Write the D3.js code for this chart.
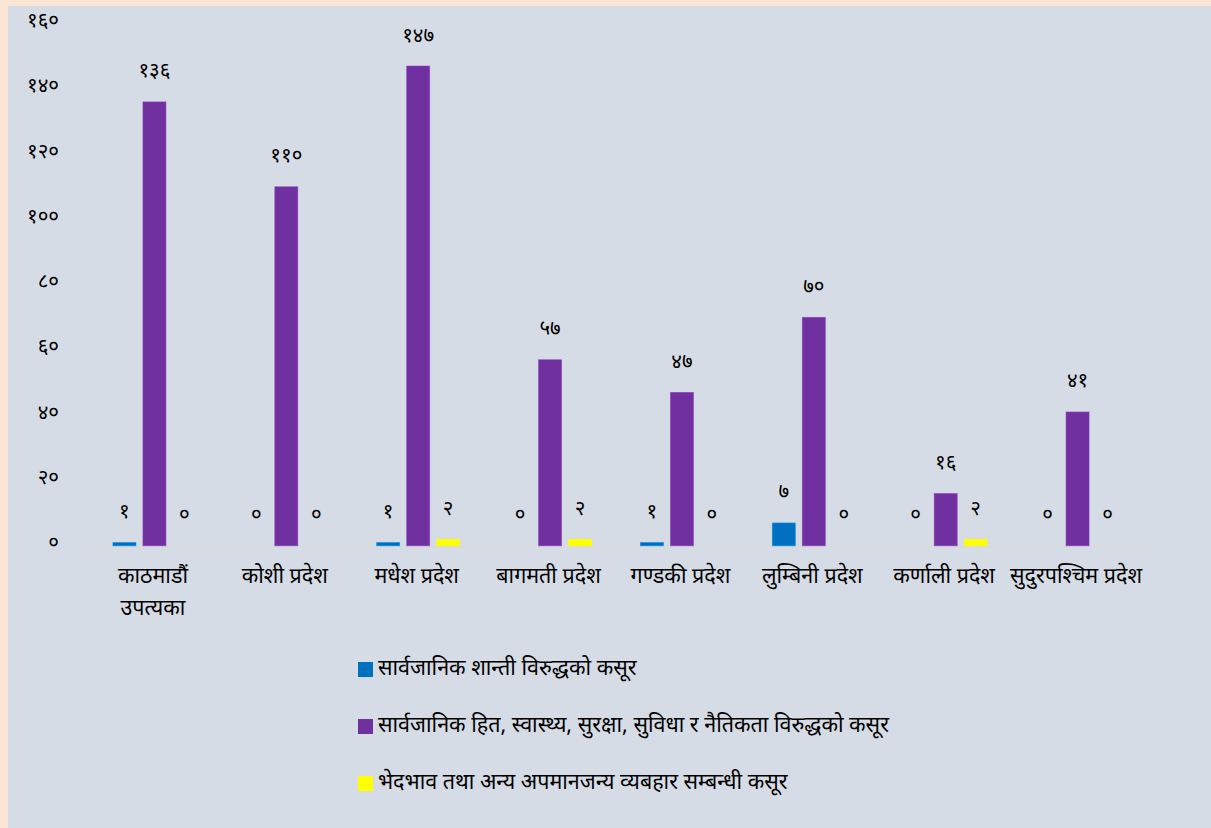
<!DOCTYPE html>
<html><head><meta charset="utf-8">
<script src="https://cdn.jsdelivr.net/npm/d3@7"></script>
<style>
html,body{margin:0;padding:0;background:#fbe5d6;}
svg{display:block;font-family:"Noto Sans","Noto Sans Devanagari","Lohit Devanagari",sans-serif;}
</style></head>
<body>
<svg id="chart" width="1211" height="828"></svg>
<script>
const categories = [["काठमाडौं","उपत्यका"],["कोशी प्रदेश"],["मधेश प्रदेश"],["बागमती प्रदेश"],["गण्डकी प्रदेश"],["लुम्बिनी प्रदेश"],["कर्णाली प्रदेश"],["सुदुरपश्चिम प्रदेश"]];
const seriesNames = ["सार्वजानिक शान्ती विरुद्धको कसूर","सार्वजानिक हित, स्वास्थ्य, सुरक्षा, सुविधा र नैतिकता विरुद्धको कसूर","भेदभाव तथा अन्य अपमानजन्य व्यबहार सम्बन्धी कसूर"];
const publicPeace = [1,0,1,0,1,7,0,0];
const publicInterest = [136,110,147,57,47,70,16,41];
const discrimination = [0,0,2,2,0,0,2,0];
const yTicks = [0,20,40,60,80,100,120,140,160];
const colors = ["#0070c0","#7030a0","#ffff00"];

const devDigits = "०१२३४५६७८९";
const toDev = n => String(n).replace(/[0-9]/g, d => devDigits[+d]);

const svg = d3.select("#chart");
svg.append("rect").attr("x",8).attr("y",6).attr("width",1203).attr("height",822).attr("fill","#d6dce5");

const seriesData = [publicPeace, publicInterest, discrimination];
const y = d3.scaleLinear().domain([0,160]).range([545.8,23.6]);
const x0 = d3.scaleBand().domain(d3.range(categories.length)).range([87,1142]);
const x1 = d3.scaleBand().domain(d3.range(3)).range([0,83]).paddingInner(7/30);
const groupOffset = (x0.bandwidth()-83)/2 + 1.5;

// baseline
svg.append("line").attr("x1",87).attr("x2",1150).attr("y1",y(0)+0.5).attr("y2",y(0)+0.5)
  .attr("stroke","#d9d9d9").attr("stroke-width",1.2);

// y tick labels
svg.append("g").selectAll("text").data(yTicks).join("text")
  .attr("x",59).attr("y",d=>y(d)-2).attr("text-anchor","end").attr("dominant-baseline","middle")
  .attr("font-size",20.5).attr("fill","#000").text(d=>toDev(d));

// bars
const groups = svg.append("g").selectAll("g").data(categories).join("g")
  .attr("transform",(d,i)=>`translate(${x0(i)+groupOffset},0)`);
groups.each(function(c,i){
  const g = d3.select(this);
  seriesData.forEach((s,k)=>{
    const v = s[i];
    if(v>0){
      g.append("rect").attr("x",x1(k)).attr("width",x1.bandwidth())
        .attr("y",y(v)).attr("height",y(0)-y(v)).attr("fill",colors[k])
        .attr("stroke",d3.color(colors[k]).brighter(0.6)).attr("stroke-width",0.8).attr("stroke-opacity",0.7);
    }
    g.append("text").attr("x",x1(k)+x1.bandwidth()/2).attr("y",y(v)-30)
      .attr("text-anchor","middle").attr("dominant-baseline","middle")
      .attr("font-size",20.5).attr("fill","#000").text(toDev(v));
  });
});

// category labels
svg.append("g").selectAll("text").data(categories).join("text")
  .attr("x",(d,i)=>x0(i)+x0.bandwidth()/2).attr("y",577)
  .attr("text-anchor","middle").attr("font-size",21.5).attr("fill","#000")
  .attr("dominant-baseline","middle")
  .each(function(d){
    const t = d3.select(this);
    d.forEach((line,j)=>t.append("tspan").attr("x",t.attr("x")).attr("dy",j===0?0:32).text(line));
  });

// legend
const leg = svg.append("g").selectAll("g").data(seriesNames).join("g")
  .attr("transform",(d,i)=>`translate(358,${670+i*57})`);
leg.append("rect").attr("x",0).attr("y",-8).attr("width",15).attr("height",15).attr("fill",(d,i)=>colors[i]);
leg.append("text").attr("x",20).attr("y",-1).attr("dominant-baseline","middle")
  .attr("font-size",21.5).attr("fill","#000").text(d=>d);
</script>
</body></html>
